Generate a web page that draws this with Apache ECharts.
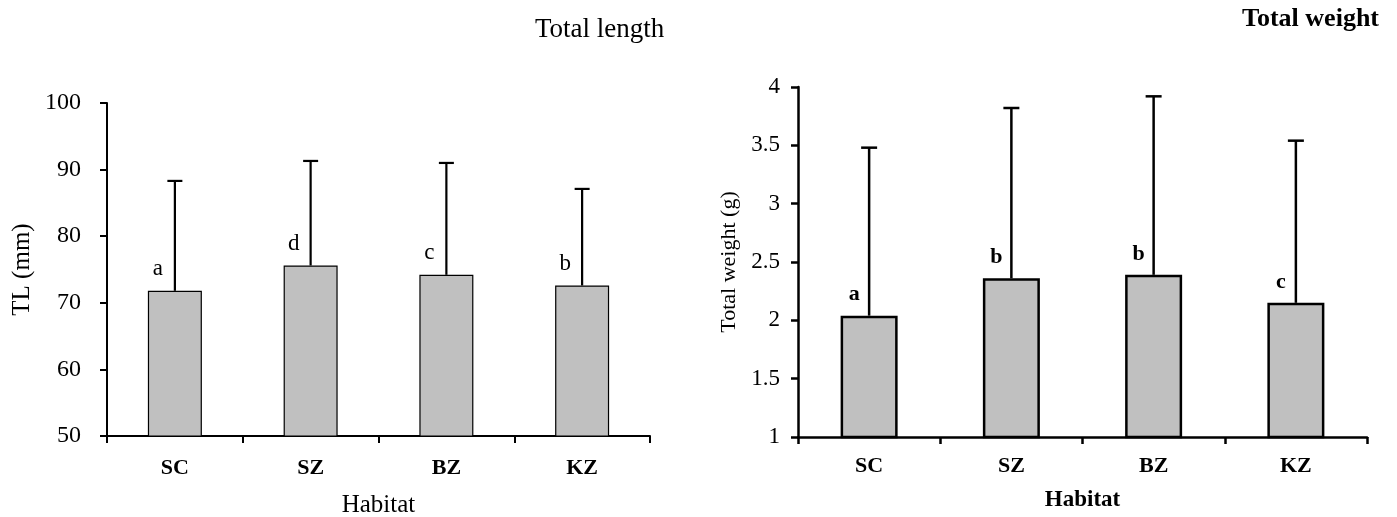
<!DOCTYPE html>
<html>
<head>
<meta charset="utf-8">
<script src="https://cdn.jsdelivr.net/npm/echarts@6/dist/echarts.min.js"></script>
<style>
  html, body { margin: 0; padding: 0; background: #fff; }
  #chart { width: 1397px; height: 517px; }
</style>
</head>
<body>
<div id="chart"></div>
<script>
// ---------------- DATA ----------------
const habitats = ['SC', 'SZ', 'BZ', 'KZ'];

const lengthMean = [71.8, 75.6, 74.2, 72.6];
const lengthSD = [16.5, 15.7, 16.8, 14.5];
const lengthLetters = ['a', 'd', 'c', 'b'];

const weightMean = [2.04, 2.36, 2.39, 2.15];
const weightSD = [1.44, 1.46, 1.53, 1.39];
const weightLetters = ['a', 'b', 'b', 'c'];

const FONT = "'Liberation Serif', 'Times New Roman', serif";

let chart = echarts.init(document.getElementById('chart'));

// error bar: stem from bar top up to mean + sd, with a cap
function errorBar(capHalf, lw) {
    return function (params, api) {
        let i = api.value(0);
        let m = api.value(1);
        let s = api.value(2);
        let p0 = api.coord([i, m]);
        let p1 = api.coord([i, m + s]);
        let st = { stroke: '#000', lineWidth: lw };
        return {
            type: 'group',
            children: [
                { type: 'line', shape: { x1: p0[0], y1: p0[1], x2: p1[0], y2: p1[1] }, style: st },
                { type: 'line', shape: { x1: p1[0] - capHalf, y1: p1[1], x2: p1[0] + capHalf, y2: p1[1] }, style: st }
            ]
        };
    };
}

function axisStyle(w) {
    return {
        axisLine: { show: true, lineStyle: { color: '#000', width: w } },
        axisTick: { show: true, inside: false, length: 7, lineStyle: { color: '#000', width: w } },
        splitLine: { show: false }
    };
}

chart.setOption({
    animation: false,
    title: [
        { text: 'Total length', left: 530, top: 11,
          textStyle: { fontFamily: FONT, fontSize: 27, fontWeight: 'normal', color: '#000' } },
        { text: 'Total weight', left: 1237, top: 1,
          textStyle: { fontFamily: FONT, fontSize: 26, fontWeight: 'bold', color: '#000' } }
    ],
    grid: [
        { left: 107, top: 103, width: 543, height: 333, outerBoundsMode: 'none' },
        { left: 798, top: 87, width: 569, height: 350, outerBoundsMode: 'none' }
    ],
    xAxis: [
        Object.assign({
            gridIndex: 0, type: 'category', data: habitats,
            name: 'Habitat', nameLocation: 'middle', nameGap: 57,
            nameTextStyle: { fontFamily: FONT, fontSize: 25, color: '#000' },
            axisLabel: { margin: 21, fontFamily: FONT, fontSize: 22, fontWeight: 'bold', color: '#000' }
        }, axisStyle(2)),
        Object.assign({
            gridIndex: 1, type: 'category', data: habitats,
            name: 'Habitat', nameLocation: 'middle', nameGap: 52,
            nameTextStyle: { fontFamily: FONT, fontSize: 23, fontWeight: 'bold', color: '#000' },
            axisLabel: { margin: 18, fontFamily: FONT, fontSize: 22, fontWeight: 'bold', color: '#000' }
        }, axisStyle(2.5))
    ],
    yAxis: [
        Object.assign({
            gridIndex: 0, type: 'value', min: 50, max: 100, interval: 10,
            name: 'TL (mm)', nameLocation: 'middle', nameGap: 72,
            nameTextStyle: { fontFamily: FONT, fontSize: 25, color: '#000' },
            axisLabel: { margin: 26, fontFamily: FONT, fontSize: 24, color: '#000' }
        }, axisStyle(2)),
        Object.assign({
            gridIndex: 1, type: 'value', min: 1, max: 4, interval: 0.5,
            name: 'Total weight (g)', nameLocation: 'middle', nameGap: 58,
            nameTextStyle: { fontFamily: FONT, fontSize: 22, color: '#000' },
            axisLabel: { margin: 18, fontFamily: FONT, fontSize: 23, color: '#000' }
        }, axisStyle(2.5))
    ],
    series: [
        {
            type: 'bar', xAxisIndex: 0, yAxisIndex: 0, barWidth: 54,
            data: lengthMean,
            itemStyle: { color: '#c0c0c0', borderColor: '#000', borderWidth: 1.2 },
            label: {
                show: true, position: 'top', distance: 10, offset: [-17, 0],
                formatter: p => lengthLetters[p.dataIndex],
                fontFamily: FONT, fontSize: 23, color: '#000'
            }
        },
        {
            type: 'custom', xAxisIndex: 0, yAxisIndex: 0, z: 3,
            renderItem: errorBar(7.5, 2.2),
            data: habitats.map((h, i) => [i, lengthMean[i], lengthSD[i]])
        },
        {
            type: 'bar', xAxisIndex: 1, yAxisIndex: 1, barWidth: 57,
            data: weightMean,
            itemStyle: { color: '#c0c0c0', borderColor: '#000', borderWidth: 2.5 },
            label: {
                show: true, position: 'top', distance: 10, offset: [-15, 0],
                formatter: p => weightLetters[p.dataIndex],
                fontFamily: FONT, fontSize: 22, fontWeight: 'bold', color: '#000'
            }
        },
        {
            type: 'custom', xAxisIndex: 1, yAxisIndex: 1, z: 3,
            renderItem: errorBar(8, 2.5),
            data: habitats.map((h, i) => [i, weightMean[i], weightSD[i]])
        }
    ]
});
</script>
</body>
</html>
